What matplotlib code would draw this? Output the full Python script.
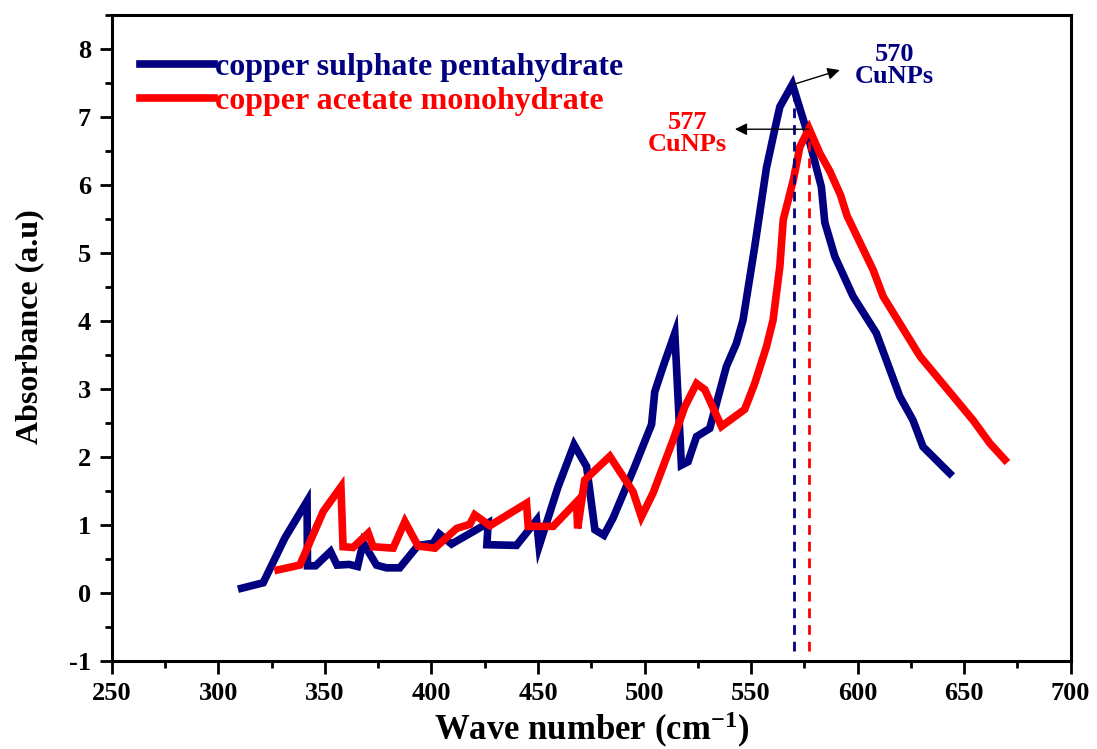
import numpy as np
import matplotlib
matplotlib.use("Agg")
import matplotlib.pyplot as plt
from matplotlib.ticker import MultipleLocator

plt.rcParams["font.family"] = ["Liberation Serif", "DejaVu Serif"]
plt.rcParams["font.weight"] = "bold"
plt.rcParams["axes.unicode_minus"] = False
plt.rcParams["mathtext.fontset"] = "custom"
plt.rcParams["mathtext.rm"] = "Liberation Serif:bold"
plt.rcParams["mathtext.default"] = "rm"

# copper sulphate pentahydrate (blue)
sulphate_x = [310.9, 321.0, 331.2, 341.6, 341.8, 345.6, 352.6, 355.7, 361.4, 365.3,
              367.9, 374.2, 378.9, 385.1, 393.7, 400.8, 403.6, 409.4, 426.6, 426.0,
              439.9, 449.3, 450.5, 459.4, 466.9, 472.8, 476.7, 480.9, 485.2, 495.4,
              503.3, 504.8, 508.7, 514.2, 517.3, 520.4, 524.4, 530.6, 538.4, 543.1,
              546.2, 551.7, 557.2, 561.0, 563.5, 569.4, 576.0, 583.0, 584.6, 589.3,
              597.9, 608.8, 619.8, 626.0, 630.7, 643.2]
sulphate_y = [0.07, 0.15, 0.81, 1.35, 0.40, 0.40, 0.61, 0.41, 0.42, 0.39,
              0.74, 0.41, 0.37, 0.37, 0.70, 0.73, 0.87, 0.72, 1.03, 0.71,
              0.70, 1.07, 0.69, 1.56, 2.18, 1.86, 0.93, 0.85, 1.10, 1.86,
              2.48, 2.96, 3.33, 3.82, 1.88, 1.93, 2.30, 2.42, 3.33, 3.67,
              4.01, 5.09, 6.25, 6.80, 7.15, 7.48, 6.81, 5.97, 5.45, 4.95,
              4.36, 3.82, 2.89, 2.54, 2.15, 1.76]

# copper acetate monohydrate (red)
acetate_x = [328.0, 338.2, 349.2, 357.5, 358.5, 363.2, 370.3, 372.6, 382.0, 387.5,
             393.7, 401.6, 411.8, 418.0, 420.3, 427.4, 444.6, 445.4, 457.1, 468.1,
             468.6, 471.9, 483.7, 494.6, 498.5, 504.0, 508.7, 513.4, 518.9, 524.4,
             528.3, 536.1, 547.0, 551.7, 557.2, 560.3, 563.5, 565.1, 569.8, 572.9,
             577.2, 582.2, 587.0, 592.0, 595.0, 607.3, 612.0, 629.3, 654.2, 662.1,
             669.1]
acetate_y = [0.34, 0.41, 1.20, 1.56, 0.68, 0.67, 0.88, 0.68, 0.66, 1.05,
             0.69, 0.66, 0.95, 1.01, 1.15, 0.99, 1.32, 0.98, 0.98, 1.34,
             0.95, 1.66, 2.01, 1.49, 1.12, 1.47, 1.86, 2.25, 2.74, 3.08,
             2.99, 2.45, 2.70, 3.08, 3.62, 4.01, 4.80, 5.49, 6.07, 6.56,
             6.83, 6.47, 6.20, 5.85, 5.55, 4.75, 4.36, 3.48, 2.54, 2.20,
             1.96]

peak_sulphate = (570, 7.48)
peak_acetate = (577, 6.83)

BLUE = "#000080"
RED = "#FF0000"

fig = plt.figure(figsize=(10.97, 7.49), dpi=100)
ax = fig.add_axes([0.102, 0.1175, 0.874, 0.8625])

ax.plot(sulphate_x, sulphate_y, color=BLUE, lw=5.5, label="copper sulphate pentahydrate",
        solid_joinstyle="miter")
ax.plot(acetate_x, acetate_y, color=RED, lw=5.5, label="copper acetate monohydrate",
        solid_joinstyle="miter")

# dashed drop lines at the peaks
ax.plot([peak_sulphate[0]] * 2, [-0.85, peak_sulphate[1] - 0.1], color=BLUE, lw=2,
        dashes=(3.5, 2.5))
ax.plot([peak_acetate[0]] * 2, [-0.85, peak_acetate[1] - 0.1], color=RED, lw=2,
        dashes=(3.5, 2.5))

# peak annotations
ax.annotate("", xy=(591.6, 7.69), xytext=peak_sulphate,
            arrowprops=dict(arrowstyle="-|>", color="k", lw=1, mutation_scale=18,
                            shrinkA=0, shrinkB=0))
ax.text(617.4, 7.76, "570\nCuNPs", color=BLUE, fontsize=19, fontweight="bold",
        ha="center", va="center", linespacing=0.95)
ax.annotate("", xy=(542.4, 6.82), xytext=(peak_acetate[0], 6.82),
            arrowprops=dict(arrowstyle="-|>", color="k", lw=1, mutation_scale=18,
                            shrinkA=0, shrinkB=0))
ax.text(520.3, 6.76, "577\nCuNPs", color=RED, fontsize=19, fontweight="bold",
        ha="center", va="center", linespacing=0.95)

ax.set_xlim(250, 700)
ax.set_ylim(-1, 8.5)
ax.xaxis.set_major_locator(MultipleLocator(50))
ax.xaxis.set_minor_locator(MultipleLocator(25))
ax.yaxis.set_minor_locator(MultipleLocator(0.5))
ax.set_yticks(np.arange(-1, 9, 1))

for s in ax.spines.values():
    s.set_linewidth(2.2)
ax.tick_params(which="major", direction="out", length=9, width=2, labelsize=19, pad=6)
ax.tick_params(which="minor", direction="out", length=5, width=2)
for lbl in ax.get_xticklabels() + ax.get_yticklabels():
    lbl.set_fontweight("bold")

ax.set_xlabel("Wave number (cm$^{-1}$)", fontsize=25, fontweight="bold", labelpad=4)
ax.set_ylabel("Absorbance (a.u)", fontsize=23, fontweight="bold")
ax.yaxis.set_label_coords(-0.071, 0.518)

leg = ax.legend(loc="upper left", bbox_to_anchor=(0.003, 1 - 12 / 646), frameon=False,
                handlelength=2.3, handletextpad=0.05, labelspacing=0.15,
                borderaxespad=0.4, labelcolor="linecolor",
                prop={"weight": "bold", "size": 23})

fig.savefig("out.png", dpi=100)
